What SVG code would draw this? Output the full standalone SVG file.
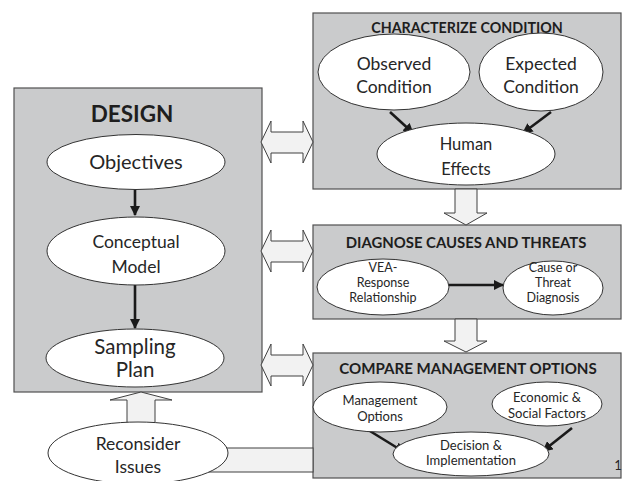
<svg xmlns="http://www.w3.org/2000/svg" width="622" height="481" viewBox="0 0 622 481">
<defs>
<marker id="ah" viewBox="0 0 10 10" refX="9" refY="5" markerWidth="4" markerHeight="4" orient="auto" markerUnits="strokeWidth">
<path d="M0,0 L10,5 L0,10 Z" fill="#1a1a1a"/>
</marker>
<style>
.box{fill:#cacbcc;stroke:#505050;stroke-width:1.2}
.el{fill:#ffffff;stroke:#333333;stroke-width:1}
.blk{fill:#f2f2f2;stroke:#404040;stroke-width:1}
.ln{stroke:#1a1a1a;stroke-width:2.6;fill:none;marker-end:url(#ah)}
text{font-family:Lato,"Open Sans","Liberation Sans",sans-serif;fill:#262626;text-anchor:middle}
.ttl{font-weight:bold;fill:#1e1e1e}
</style>
</defs>
<rect width="622" height="481" fill="#ffffff"/>

<g id="design">
<rect class="box" x="14" y="88" width="248" height="304"/>
<text class="ttl" x="132" y="122" font-size="22.5">DESIGN</text>
</g>
<g id="characterize">
<rect class="box" x="313" y="13" width="308" height="176"/>
<text class="ttl" x="467" y="33" font-size="14.3">CHARACTERIZE CONDITION</text>
</g>
<g id="diagnose">
<rect class="box" x="313" y="225" width="308" height="94"/>
<text class="ttl" x="466" y="248" font-size="14.9">DIAGNOSE CAUSES AND THREATS</text>
</g>
<g id="compare">
<rect class="box" x="313" y="353" width="308" height="125"/>
<text class="ttl" x="468" y="374" font-size="15.1">COMPARE MANAGEMENT OPTIONS</text>
<text x="618" y="470" font-size="13" text-anchor="start">1</text>
</g>

<g id="connectors">
<path class="blk" d="M261,142 L271,121 L271,132 L303,132 L303,121 L313,142 L303,163 L303,153 L271,153 L271,163 Z"/>
<path class="blk" d="M261,251 L271,230 L271,241 L303,241 L303,230 L313,251 L303,272 L303,262 L271,262 L271,272 Z"/>
<path class="blk" d="M261,365 L271,344 L271,355 L303,355 L303,344 L313,365 L303,386 L303,376 L271,376 L271,386 Z"/>
<path class="blk" d="M455,189 L477,189 L477,213 L487,213 L466,225 L444,213 L455,213 Z"/>
<path class="blk" d="M455,319 L477,319 L477,341 L487,341 L466,352 L444,341 L455,341 Z"/>
<path class="blk" d="M127,430 L127,400 L110,400 L141,392 L172,400 L155,400 L155,430 Z"/>
<rect class="blk" x="200" y="448" width="113" height="24"/>
<line class="ln" x1="135" y1="190" x2="135" y2="215"/>
<line class="ln" x1="135" y1="285" x2="135" y2="328"/>
<line class="ln" x1="390" y1="112" x2="413" y2="133"/>
<line class="ln" x1="551" y1="112" x2="523" y2="133"/>
<line class="ln" x1="448" y1="285" x2="503" y2="285"/>
<line class="ln" x1="365" y1="428" x2="404" y2="452"/>
<line class="ln" x1="572" y1="428" x2="543" y2="451"/>
</g>

<g id="objectives">
<ellipse class="el" cx="136" cy="162" rx="89" ry="27.5"/>
<text x="136" y="169" font-size="20">Objectives</text>
</g>
<g id="conceptual-model">
<ellipse class="el" cx="136" cy="251" rx="89" ry="34"/>
<text x="136" y="248" font-size="17.5">Conceptual</text>
<text x="136" y="273" font-size="17.5">Model</text>
</g>
<g id="sampling-plan">
<ellipse class="el" cx="135" cy="358" rx="89" ry="29"/>
<text x="135" y="354" font-size="20.5">Sampling</text>
<text x="135" y="377" font-size="20.5">Plan</text>
</g>
<g id="reconsider-issues">
<ellipse class="el" cx="138" cy="453" rx="90" ry="31"/>
<text x="138" y="450" font-size="17.5">Reconsider</text>
<text x="138" y="473" font-size="17.5">Issues</text>
</g>
<g id="observed-condition">
<ellipse class="el" cx="394" cy="72" rx="76" ry="38"/>
<text x="394" y="70" font-size="17.5">Observed</text>
<text x="394" y="93" font-size="17.5">Condition</text>
</g>
<g id="expected-condition">
<ellipse class="el" cx="541" cy="72" rx="62" ry="39"/>
<text x="541" y="70" font-size="17.5">Expected</text>
<text x="541" y="93" font-size="17.5">Condition</text>
</g>
<g id="human-effects">
<ellipse class="el" cx="466" cy="154" rx="89" ry="31"/>
<text x="466" y="150" font-size="16.5">Human</text>
<text x="466" y="175" font-size="16.5">Effects</text>
</g>
<g id="vea-response">
<ellipse class="el" cx="383" cy="287" rx="66" ry="28"/>
<text x="383" y="272" font-size="12.5">VEA-</text>
<text x="383" y="287" font-size="12.5">Response</text>
<text x="383" y="302" font-size="12.5">Relationship</text>
</g>
<g id="cause-threat">
<ellipse class="el" cx="553" cy="288" rx="50" ry="27"/>
<text x="553" y="272" font-size="12.5">Cause or</text>
<text x="553" y="287" font-size="12.5">Threat</text>
<text x="553" y="302" font-size="12.5">Diagnosis</text>
</g>
<g id="management-options">
<ellipse class="el" cx="380" cy="407" rx="67" ry="25"/>
<text x="380" y="405" font-size="13">Management</text>
<text x="380" y="421" font-size="13">Options</text>
</g>
<g id="economic-social">
<ellipse class="el" cx="547" cy="404" rx="55" ry="22"/>
<text x="547" y="402" font-size="13">Economic &amp;</text>
<text x="547" y="418" font-size="13">Social Factors</text>
</g>
<g id="decision-implementation">
<ellipse class="el" cx="471" cy="454" rx="78" ry="22"/>
<text x="471" y="450" font-size="13">Decision &amp;</text>
<text x="471" y="465" font-size="13">Implementation</text>
</g>
</svg>
